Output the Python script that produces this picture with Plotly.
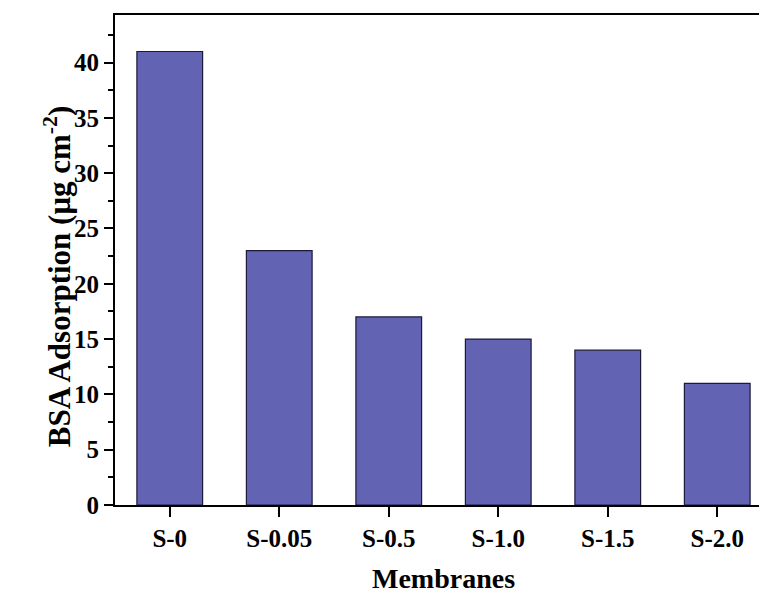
import plotly.graph_objects as go

categories = ["S-0", "S-0.05", "S-0.5", "S-1.0", "S-1.5", "S-2.0"]
values = [41, 23, 17, 15, 14, 11]

fig = go.Figure(go.Bar(
    x=list(range(len(categories))), y=values, width=0.6,
    marker=dict(color="#6263B3", line=dict(color="#1a1a3a", width=1.2)),
))

font = dict(family="Liberation Serif, Times New Roman, serif", size=25, color="black")
fig.update_layout(
    width=767, height=594,
    margin=dict(l=107, r=3, t=7, b=97),
    plot_bgcolor="white", paper_bgcolor="white",
    showlegend=False,
    font=font,
    xaxis=dict(
        range=[-0.5, 5.5], tickmode="array", tickvals=list(range(len(categories))),
        ticktext=["<b>%s</b>" % c for c in categories],
        showline=True, linecolor="black", linewidth=2, mirror=True,
        ticks="outside", ticklen=10, tickwidth=2, tickcolor="black",
        showgrid=False, zeroline=False,
        title=dict(text="<b>Membranes</b>", font=dict(size=28), standoff=17),
    ),
    yaxis=dict(
        range=[0, 44.3], tickmode="linear", tick0=0, dtick=5,
        showline=True, linecolor="black", linewidth=2, mirror=False,
        ticks="outside", ticklen=9, tickwidth=2, tickcolor="black",
        minor=dict(dtick=2.5, ticks="outside", ticklen=5, tickwidth=2, tickcolor="black"),
        showgrid=False, zeroline=False,
        tickprefix="<b>", ticksuffix="</b>",
    ),
    annotations=[dict(
        text="<b>BSA Adsorption (μg cm<sup>-2</sup>)</b>",
        xref="paper", yref="paper", x=-0.0875, y=0.466,
        xanchor="center", yanchor="middle", textangle=-90,
        showarrow=False, font=dict(size=31),
    )],
)
fig.write_html("out.html")
